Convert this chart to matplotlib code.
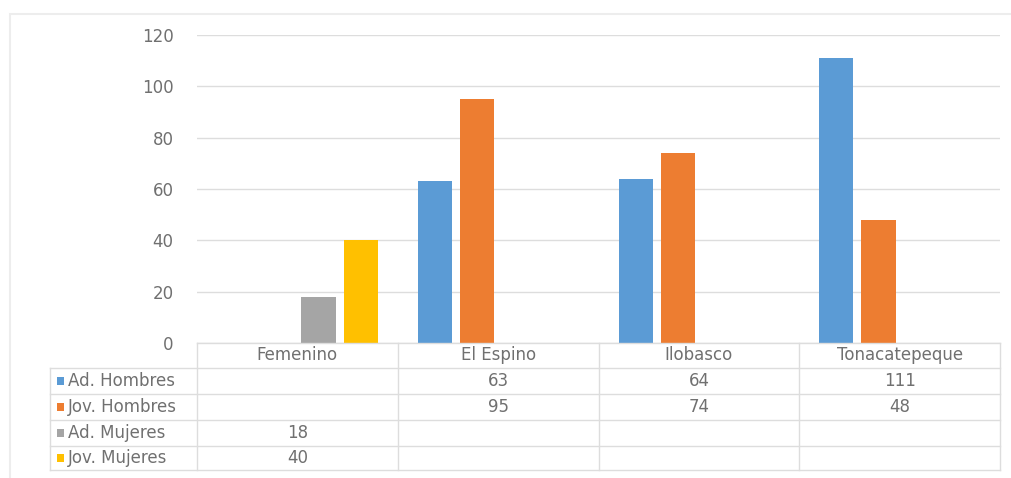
import matplotlib.pyplot as plt
from matplotlib.patches import Rectangle
import numpy as np

categories = ['Femenino', 'El Espino', 'Ilobasco', 'Tonacatepeque']
series_names = ['Ad. Hombres', 'Jov. Hombres', 'Ad. Mujeres', 'Jov. Mujeres']
ad_hombres = [None, 63, 64, 111]
jov_hombres = [None, 95, 74, 48]
ad_mujeres = [18, None, None, None]
jov_mujeres = [40, None, None, None]
yticks = [0, 20, 40, 60, 80, 100, 120]

series_values = [ad_hombres, jov_hombres, ad_mujeres, jov_mujeres]
colors = ['#5B9BD5', '#ED7D31', '#A5A5A5', '#FFC000']

TEXT_COLOR = '#707070'
GRID_COLOR = '#DDDDDD'
FONT_SIZE = 12

plt.rcParams['font.family'] = ['DejaVu Sans']

W, H = 1011, 478
fig = plt.figure(figsize=(W / 100, H / 100), dpi=100)

# faint outer border of the chart object
fig.patches.append(Rectangle((10 / W, -0.1), 1.2, 1 - 14 / H + 0.1, transform=fig.transFigure,
                             fill=False, edgecolor='#EDEDED', linewidth=1.5))

left, right, top, bottom = 197, 1000, 35, 343
ax = fig.add_axes([left / W, 1 - bottom / H, (right - left) / W, (bottom - top) / H])

x = np.arange(len(categories))
pitch = 0.21
width = 0.17
for i, (vals, c) in enumerate(zip(series_values, colors)):
    xs = [xi + (i - 1.5) * pitch for xi, v in zip(x, vals) if v is not None]
    ys = [v for v in vals if v is not None]
    ax.bar(xs, ys, width=width, color=c, zorder=3)

ax.set_xlim(-0.5, len(categories) - 0.5)
ax.set_ylim(0, 120)
ax.set_yticks(yticks)
ax.set_xticks([])
ax.yaxis.grid(True, color=GRID_COLOR, linewidth=1.0, zorder=0)
ax.tick_params(axis='y', length=0, pad=17, labelsize=FONT_SIZE, labelcolor=TEXT_COLOR)
for s in ax.spines.values():
    s.set_visible(False)

# data table below the axis
def fy(py):
    return 1 - py / H

def fx(px):
    return px / W

row_edges = [343, 368, 394, 420, 446, 470]
label_left = 50
col_edges = [-0.5 + k for k in range(len(categories) + 1)]
to_fig = lambda xd: fig.transFigure.inverted().transform(ax.transData.transform((xd, 0)))[0]
col_fx = [to_fig(c) for c in col_edges]

line_kw = dict(color=GRID_COLOR, linewidth=1.0, transform=fig.transFigure)
fig.add_artist(plt.Line2D([col_fx[0], col_fx[-1]], [fy(row_edges[0])] * 2, **line_kw))
for ry in row_edges[1:]:
    fig.add_artist(plt.Line2D([fx(label_left), col_fx[-1]], [fy(ry)] * 2, **line_kw))
for cx in col_fx:
    fig.add_artist(plt.Line2D([cx, cx], [fy(row_edges[0]), fy(row_edges[-1])], **line_kw))
fig.add_artist(plt.Line2D([fx(label_left)] * 2, [fy(row_edges[1]), fy(row_edges[-1])], **line_kw))

txt_kw = dict(va='center_baseline', fontsize=FONT_SIZE, color=TEXT_COLOR)
lift = 2 / H
for j, cat in enumerate(categories):
    cx = (col_fx[j] + col_fx[j + 1]) / 2
    fig.text(cx, fy((row_edges[0] + row_edges[1]) / 2) + lift, cat, ha='center', **txt_kw)

for i, (name, vals, c) in enumerate(zip(series_names, series_values, colors)):
    ry = fy((row_edges[i + 1] + row_edges[i + 2]) / 2)
    fig.patches.append(Rectangle((fx(57), ry - 4 / H), 7 / W, 8 / H, transform=fig.transFigure,
                                 facecolor=c, edgecolor='none'))
    fig.text(fx(68), ry + lift, name, ha='left', **txt_kw)
    for j, v in enumerate(vals):
        if v is not None:
            cx = (col_fx[j] + col_fx[j + 1]) / 2
            fig.text(cx, ry + lift, str(v), ha='center', **txt_kw)

fig.savefig('out.png', dpi=100, facecolor='white')
